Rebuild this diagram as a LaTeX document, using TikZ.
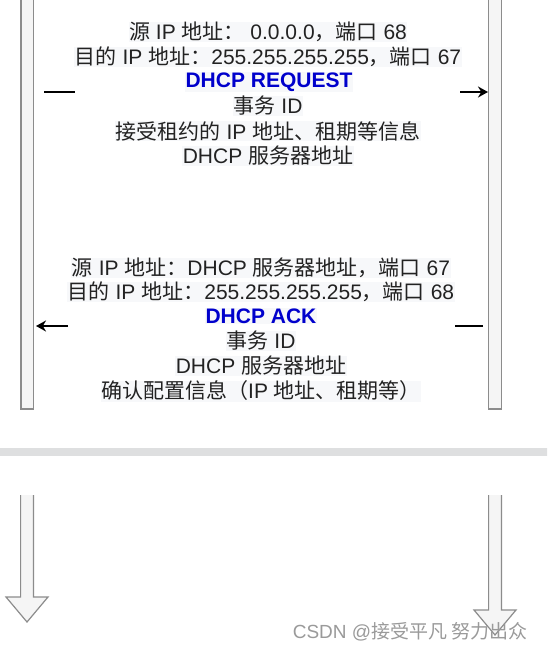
\documentclass[tikz,border=0pt]{standalone}
\usepackage{fontspec}
\setmainfont{Liberation Sans}
\newfontfamily\cjk{Noto Sans CJK SC}
\usetikzlibrary{arrows.meta}
\definecolor{barfill}{HTML}{F5F5F5}
\definecolor{barline}{HTML}{8C8C8C}
\definecolor{bandgray}{HTML}{DEDFE0}
\definecolor{txt}{HTML}{222222}
\definecolor{msgblue}{HTML}{0000CC}
\definecolor{hl}{HTML}{F7F8FA}
\definecolor{wm}{HTML}{9A9A9A}
\newcommand{\zh}[1]{{\cjk #1}}
\begin{document}
\begin{tikzpicture}[x=1pt,y=-1pt,
  lbl/.style={font=\fontsize{21}{24}\selectfont, text=txt, fill=hl, inner sep=0.5pt},
  msglbl/.style={lbl, font=\fontsize{21}{24}\selectfont\bfseries, text=msgblue},
  bar/.style={draw=barline, fill=barfill, line width=1.5pt},
  flow/.style={draw=barline, fill=barfill, line width=1.2pt, line join=miter},
  seg/.style={draw=black, line width=2pt},
  arr/.style={seg, -{Stealth[length=10pt,width=11pt]}},
  wmark/.style={font=\fontsize{19}{22}\selectfont, text=wm}]
\useasboundingbox (0,0) rectangle (547,650);
\clip (0,0) rectangle (547,650);
\fill[white] (0,0) rectangle (547,650);
% lifelines (upper part)
\path[bar] (20.75,-5) rectangle (33.25,409);
\path[bar] (488.25,-5) rectangle (501.25,409);
% break band
\fill[bandgray] (-2,448) rectangle (549,456);
% lifelines (lower part, ending in arrows)
\path[flow] (20.6,495) -- (20.6,597) -- (6,597) -- (27,622) -- (48,597) -- (33.4,597) -- (33.4,495);
\path[flow] (488.6,495) -- (488.6,610) -- (474,610) -- (495,635) -- (516,610) -- (501.4,610) -- (501.4,495);
% DHCP REQUEST block
\node[lbl] (r1) at (268,32) {\zh{源} IP \zh{地址：} 0.0.0.0\zh{，端口} 68};
\node[lbl] (r2) at (268,57) {\zh{目的} IP \zh{地址：}255.255.255.255\zh{，端口} 67};
\node[msglbl] (r3) at (269,82) {DHCP REQUEST};
\node[lbl] (r4) at (268,106) {\zh{事务} ID};
\node[lbl] (r5) at (268,131) {\zh{接受租约的} IP \zh{地址、租期等信息}};
\node[lbl] (r6) at (268,156) {DHCP \zh{服务器地址}};
\coordinate (ra) at (44,92);
\coordinate (rb) at (75,92);
\coordinate (rc) at (460,92);
\coordinate (rd) at (488,92);
\draw[seg] (ra) -- (rb);
\draw[arr] (rc) -- (rd);
% DHCP ACK block
\node[lbl] (a1) at (261,268) {\zh{源} IP \zh{地址：}DHCP \zh{服务器地址，端口} 67};
\node[lbl] (a2) at (261,292) {\zh{目的} IP \zh{地址：}255.255.255.255\zh{，端口} 68};
\node[msglbl] (a3) at (261,316) {DHCP ACK};
\node[lbl] (a4) at (261,341) {\zh{事务} ID};
\node[lbl] (a5) at (261,366) {DHCP \zh{服务器地址}};
\node[lbl] (a6) at (261,391) {\zh{确认配置信息（}IP \zh{地址、租期等）}};
\coordinate (aa) at (483,326);
\coordinate (ab) at (455,326);
\coordinate (ac) at (68,326);
\coordinate (ad) at (36,326);
\draw[seg] (aa) -- (ab);
\draw[arr] (ac) -- (ad);
% watermark
\node[wmark, anchor=east] (wmk) at (531,632) {CSDN @\zh{接受平凡 努力出众}};
\end{tikzpicture}
\end{document}
